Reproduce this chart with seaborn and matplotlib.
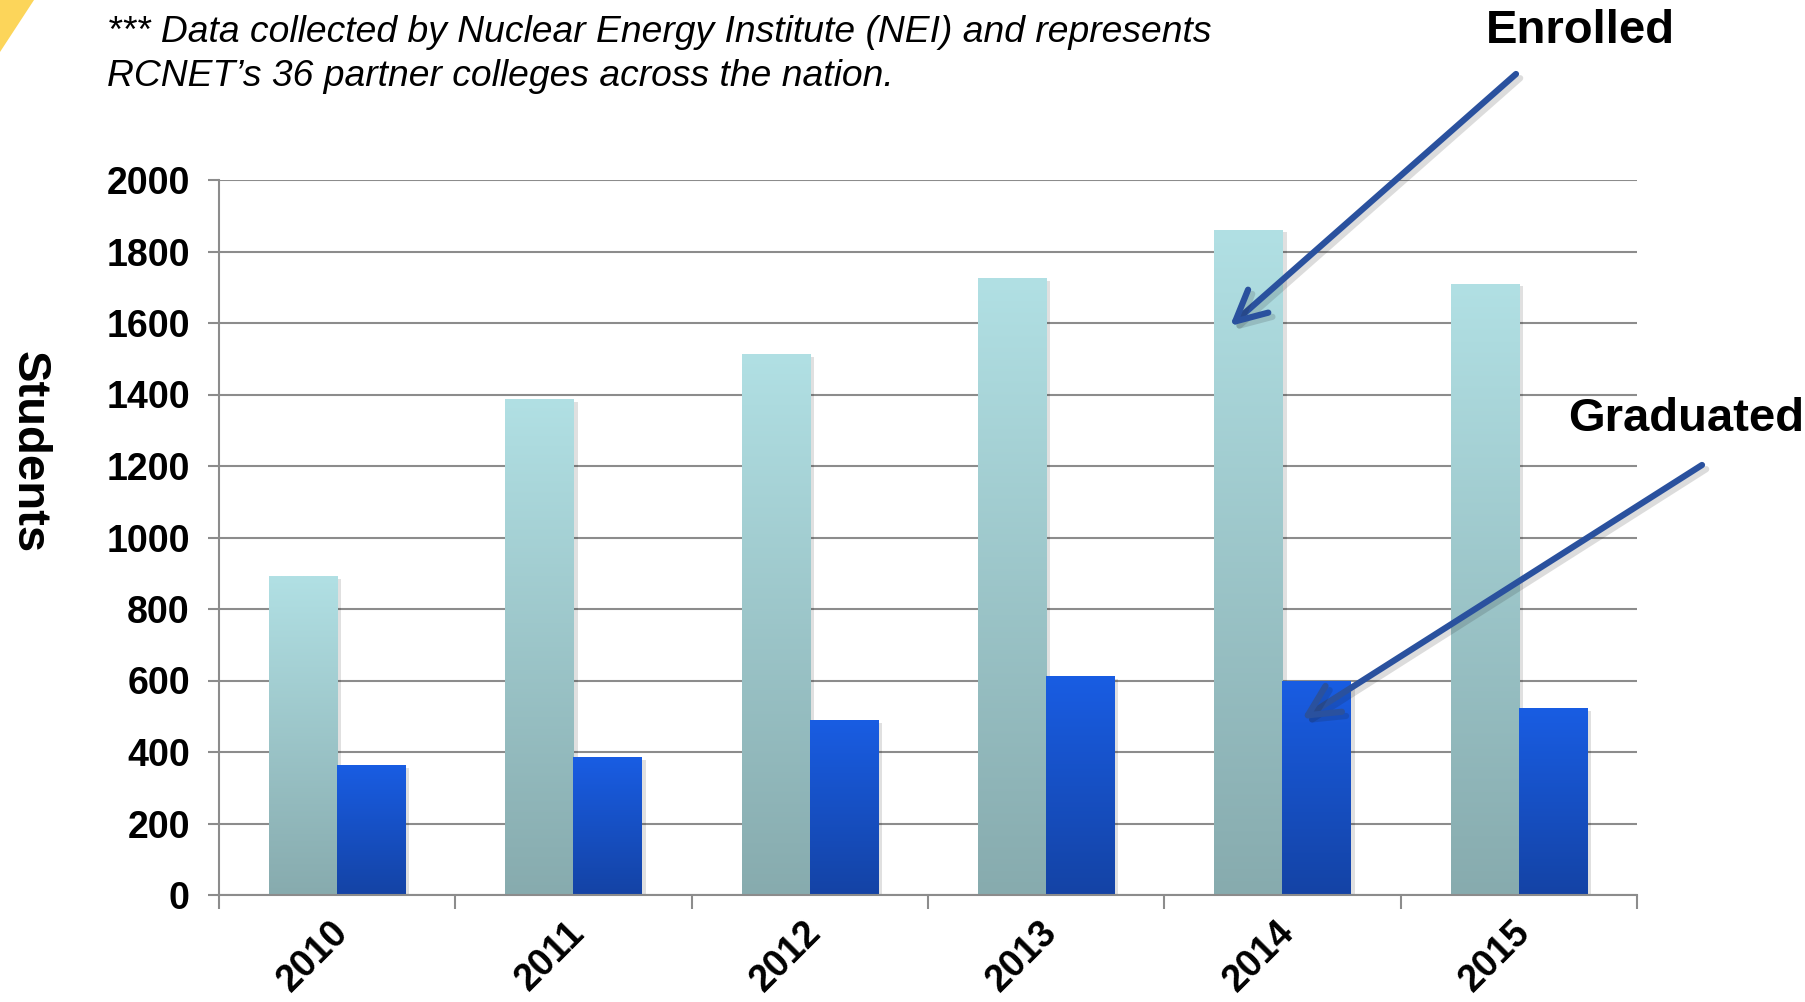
import numpy as np
import pandas as pd
import matplotlib
matplotlib.use("Agg")
import matplotlib.pyplot as plt
import matplotlib.patheffects as pe
import matplotlib.transforms as mtransforms
from matplotlib.colors import LinearSegmentedColormap
from matplotlib.patches import Polygon, FancyArrowPatch
import seaborn as sns

years = ["2010", "2011", "2012", "2013", "2014", "2015"]
enrolled = [892, 1388, 1514, 1726, 1861, 1710]
graduated = [364, 386, 490, 612, 599, 522]
series_names = ["Enrolled", "Graduated"]
y_ticks = [0, 200, 400, 600, 800, 1000, 1200, 1400, 1600, 1800, 2000]

df = pd.DataFrame({
    "year": years * 2,
    "students": enrolled + graduated,
    "series": [series_names[0]] * len(years) + [series_names[1]] * len(years),
})

sns.set_theme(style="white")
plt.rcParams["font.family"] = ["Liberation Sans", "DejaVu Sans"]
plt.rcParams["text.color"] = "black"
plt.rcParams["xtick.color"] = "black"
plt.rcParams["ytick.color"] = "black"
plt.rcParams["xtick.labelcolor"] = "black"
plt.rcParams["ytick.labelcolor"] = "black"

W, H = 1806, 1002
fig = plt.figure(figsize=(W / 100, H / 100), dpi=100)
ax = fig.add_axes([219 / W, 1 - 895 / H, (1637 - 219) / W, (895 - 180) / H])

top_cols = {"Enrolled": "#b1e0e4", "Graduated": "#195de3"}
bot_cols = {"Enrolled": "#87abae", "Graduated": "#1443a5"}

sns.barplot(data=df, x="year", y="students", hue="series", order=years,
            hue_order=series_names, palette=bot_cols, width=0.576,
            legend=False, ax=ax, saturation=1, linewidth=0, errorbar=None)

ax.set_ylim(0, 2000)
ax.set_xlim(-0.5, len(years) - 0.5)
xl, yl = ax.get_xlim(), ax.get_ylim()

# gradient fills
grad = np.linspace(0, 1, 256).reshape(-1, 1)
bars = [p for p in ax.patches if p.get_height() > 0]
for i, p in enumerate(bars):
    name = series_names[0] if i < len(years) else series_names[1]
    cmap = LinearSegmentedColormap.from_list("g", [bot_cols[name], top_cols[name]])
    x0, w, h = p.get_x(), p.get_width(), p.get_height()
    p.set_path_effects([pe.SimplePatchShadow(offset=(3, -2), shadow_rgbFace="#000000", alpha=0.12), pe.Normal()])
    im = ax.imshow(grad, extent=[x0, x0 + w, 0, h], origin="lower", aspect="auto",
                   cmap=cmap, zorder=p.get_zorder() + 0.1, interpolation="bilinear")
    im.set_clip_path(p)
ax.set_xlim(xl)
ax.set_ylim(yl)

ax.set_axisbelow(True)
ax.yaxis.grid(True, color="#8c8c8c", linewidth=1.5)
ax.set_yticks(y_ticks)
ax.set_yticklabels([str(v) for v in y_ticks], fontsize=27, fontweight="bold")
ax.tick_params(axis="y", length=8, width=1.5, color="#8c8c8c", pad=13, left=True)

ax.set_xticks(range(len(years)))
ax.set_xticklabels(years, rotation=45, ha="right", rotation_mode="anchor",
                   fontsize=27, fontweight="bold")
ax.tick_params(axis="x", length=0, pad=14)
ax.set_xticks(np.arange(-0.5, len(years), 1), minor=True)
ax.tick_params(axis="x", which="minor", length=10, width=1.5, color="#8c8c8c", bottom=True)
offset = mtransforms.ScaledTranslation(-5 / 72, 0, fig.dpi_scale_trans)
for lbl in ax.get_xticklabels():
    lbl.set_transform(lbl.get_transform() + offset)

for s in ["top", "right"]:
    ax.spines[s].set_visible(False)
for s in ["left", "bottom"]:
    ax.spines[s].set_color("#8c8c8c")
    ax.spines[s].set_linewidth(1.5)

ax.set_xlabel("")
ax.set_ylabel("")
fig.text(29 / W, 1 - 452 / H, "Students", rotation=-90, fontsize=34, fontweight="bold",
         ha="center", va="center")

fig.text(107 / W, 1 - 32 / H, "*** Data collected by Nuclear Energy Institute (NEI) and represents",
         fontsize=26.8, style="italic", ha="left", va="center")
fig.text(107 / W, 1 - 76 / H, "RCNET\u2019s 36 partner colleges across the nation.",
         fontsize=26.8, style="italic", ha="left", va="center")

fig.text(1580 / W, 1 - 31 / H, "Enrolled", fontsize=34, fontweight="bold", ha="center", va="center")
fig.text(1568 / W, 1 - 419 / H, "Graduated", fontsize=34, fontweight="bold", ha="left", va="center")

arrow_kw = dict(arrowstyle="->,head_length=1.1,head_width=0.55", lw=4.5, color="#2a519e",
                shrinkA=0, shrinkB=0, mutation_scale=20, transform=fig.transFigure,
                path_effects=[pe.SimpleLineShadow(offset=(3, -3), alpha=0.15), pe.Normal()])
fig.add_artist(FancyArrowPatch((1516 / W, 1 - 74 / H), (1230 / W, 1 - 326 / H), **arrow_kw))
fig.add_artist(FancyArrowPatch((1702 / W, 1 - 465 / H), (1302 / W, 1 - 719 / H), **arrow_kw))

# yellow corner decoration
fig.add_artist(Polygon([(0, 1), (34 / W, 1), (0, 1 - 52 / H)], closed=True,
                       transform=fig.transFigure, facecolor="#fcd55a", edgecolor="none"))

fig.savefig("out.png", dpi=100, facecolor="white")
